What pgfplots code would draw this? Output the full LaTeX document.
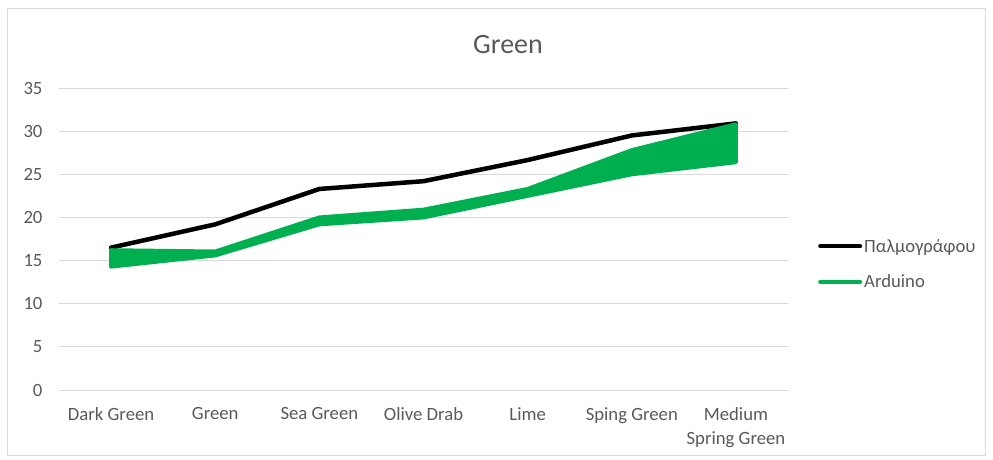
\documentclass[border=0pt]{standalone}
\usepackage{pgfplots}
\pgfplotsset{compat=1.18}
\usepackage{fontspec}
\setmainfont{Carlito}
\definecolor{txt}{RGB}{89,89,89}
\definecolor{grd}{RGB}{217,217,217}
\definecolor{agreen}{RGB}{0,176,80}
\begin{document}
\begin{tikzpicture}
\path (0pt,0pt) rectangle (993pt,-459pt);
\draw[grd, line width=1pt] (7.5pt,-8pt) rectangle (985pt,-455pt);
\node[txt, font=\fontsize{28}{32}\selectfont] at (508pt,-45pt) {Green};
\begin{axis}[
  at={(59pt,-390pt)}, anchor=south west,
  scale only axis, width=729pt, height=302pt,
  xmin=-0.5, xmax=6.5, ymin=0, ymax=35,
  ytick={0,5,...,35}, xtick={0,...,6},
  xticklabels={Dark Green,Green,Sea Green,Olive Drab,Lime,Sping Green,{Medium\\Spring Green}},
  axis line style={draw=none}, ymajorgrids, grid style={grd, line width=1pt},
  major tick length=0pt,
  tick label style={txt, font=\fontsize{18.7}{24}\selectfont},
  xticklabel style={align=center, yshift=-14pt},
  yticklabel style={xshift=-13pt},
  /pgf/number format/assume math mode=true,
  clip=false,
  legend style={at={(1,0.5)}, anchor=west, xshift=30pt, yshift=-25pt, draw=none, fill=none,
    font=\fontsize{18.7}{20}\selectfont, text=txt, row sep=17pt, inner sep=0pt},
  legend cell align=left,
  legend image code/.code={\draw[#1, line width=4pt, line cap=round] (0pt,0pt) -- (40pt,0pt);},
]
\addplot[black, line width=4.5pt, line join=round, line cap=round] coordinates {
(0,16.5) (1,19.2) (2,23.3) (3,24.2) (4,26.65) (5,29.5) (6,30.9)};
\addlegendentry{Παλμογράφου}
\addplot[agreen, fill=agreen, line width=4pt, line join=round] coordinates {
(0,16.2) (1,16.05) (2,20.0) (3,20.9) (4,23.3) (5,27.8) (6,30.8)
(6,26.4) (5,25.0) (4,22.5) (3,20.0) (2,19.2) (1,15.6) (0,14.3)} -- cycle;
\addlegendentry{Arduino}
\end{axis}
\end{tikzpicture}
\end{document}
